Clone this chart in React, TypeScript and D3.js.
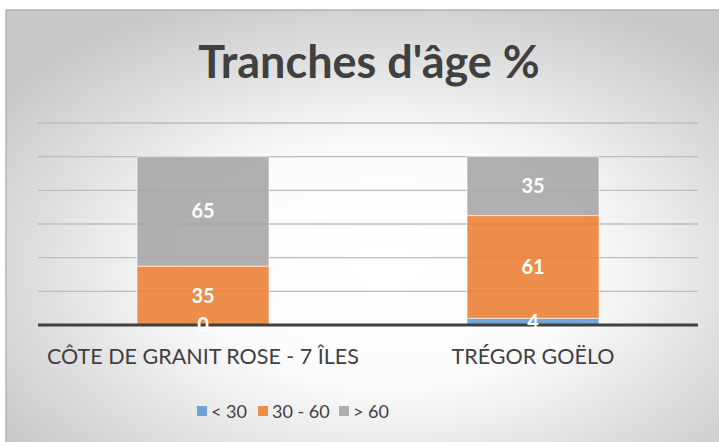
import React from 'react';
import * as d3 from 'd3';

// Tranches d'âge % - stacked columns, values in percent
const categories = ['CÔTE DE GRANIT ROSE - 7 ÎLES', 'TRÉGOR GOËLO'];
const seriesNames = ['< 30', '30 - 60', '> 60'];
const under30 = [0, 4];
const from30to60 = [35, 61];
const over60 = [65, 35];
const yTicks = [0, 20, 40, 60, 80, 100, 120];
const colors = ['#5b9bd5', '#ed7d31', '#a5a5a5'];

const W = 719, H = 442;
const font = 'Lato, "Open Sans", sans-serif';

export default function App() {
  const x = d3.scaleBand<string>().domain(categories).range([38, 698]).paddingInner(0.6).paddingOuter(0.3);
  const y = d3.scaleLinear().domain([0, 120]).range([325, 123]);

  const rows = categories.map((c, i) => ({ cat: c, a: under30[i], b: from30to60[i], c: over60[i] }));
  const stack = d3.stack<any>().keys(['a', 'b', 'c'])(rows);

  // legend layout
  const legendX = [197, 258, 339];

  return (
    <div style={{ position: 'fixed', left: 0, top: 0 }}>
      <svg width={W} height={H} style={{ display: 'block', fontFamily: font }}>
        <defs>
          <radialGradient id="bg" cx="0.53" cy="0.58" r="0.65">
            <stop offset="0" stopColor="#ffffff" />
            <stop offset="0.42" stopColor="#fbfbfb" />
            <stop offset="1" stopColor="#c9c9c9" />
          </radialGradient>
        </defs>
        <rect x={0} y={0} width={W} height={H} fill="#ffffff" />
        <rect x={6} y={10} width={W} height={H} fill="url(#bg)" stroke="#b4b4b4" strokeWidth={1.5} />

        <text x={369} y={78} textAnchor="middle" fontSize={45} fontWeight={700} fill="#404040">
          Tranches d'âge %
        </text>

        {yTicks.filter(t => t > 0).map(t => (
          <line key={t} x1={38} x2={698} y1={y(t)} y2={y(t)} stroke="#bdbdbd" strokeWidth={1.3} />
        ))}

        {stack.map((s, si) => (
          <g key={si}>
            {s.map((d, i) => {
              const bx = x(categories[i])!;
              const h = y(d[0]) - y(d[1]);
              return (
                <rect key={i} x={bx} y={y(d[1])} width={x.bandwidth()} height={h}
                  fill={colors[si]} fillOpacity={0.88} stroke="#ffffff" strokeOpacity={0.6} strokeWidth={1} />
              );
            })}
          </g>
        ))}

        <line x1={38} x2={698} y1={325} y2={325} stroke="#404040" strokeWidth={3} />

        {stack.map((s, si) => (
          <g key={'l' + si}>
            {s.map((d, i) => (
              <text key={i} x={x(categories[i])! + x.bandwidth() / 2} y={(y(d[0]) + y(d[1])) / 2 + 7}
                textAnchor="middle" fontSize={20} fontWeight={700} fill="#ffffff">
                {d[1] - d[0]}
              </text>
            ))}
          </g>
        ))}

        {categories.map(c => (
          <text key={c} x={x(c)! + x.bandwidth() / 2} y={364} textAnchor="middle" fontSize={21.5} fill="#404040">
            {c}
          </text>
        ))}

        {seriesNames.map((n, i) => (
          <g key={n}>
            <rect x={legendX[i]} y={406} width={10} height={10} fill={colors[i]} fillOpacity={0.88} />
            <text x={legendX[i] + 14} y={418} fontSize={18} fill="#404040">{n}</text>
          </g>
        ))}
      </svg>
    </div>
  );
}
